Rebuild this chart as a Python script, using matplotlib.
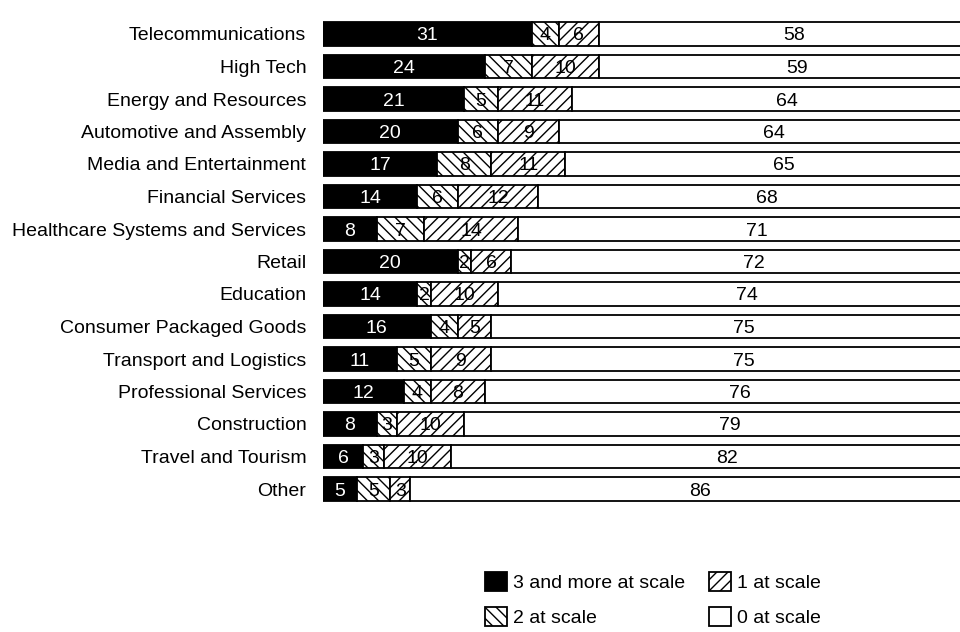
import numpy as np
import matplotlib.pyplot as plt
from matplotlib.patches import Patch

plt.rcParams['font.family'] = ['Liberation Sans', 'DejaVu Sans']
plt.rcParams['hatch.linewidth'] = 1.0

industries = ['Telecommunications', 'High Tech', 'Energy and Resources',
              'Automotive and Assembly', 'Media and Entertainment',
              'Financial Services', 'Healthcare Systems and Services', 'Retail',
              'Education', 'Consumer Packaged Goods', 'Transport and Logistics',
              'Professional Services', 'Construction', 'Travel and Tourism', 'Other']
three_plus = [31, 24, 21, 20, 17, 14, 8, 20, 14, 16, 11, 12, 8, 6, 5]
two_scale = [4, 7, 5, 6, 8, 6, 7, 2, 2, 4, 5, 4, 3, 3, 5]
one_scale = [6, 10, 11, 9, 11, 12, 14, 6, 10, 5, 9, 8, 10, 10, 3]
zero_scale = [58, 59, 64, 64, 65, 68, 71, 72, 74, 75, 75, 76, 79, 82, 86]

series = [
    ('3 and more at scale', three_plus, 'black', '', 'white'),
    ('2 at scale', two_scale, 'white', '\\\\\\', 'black'),
    ('1 at scale', one_scale, 'white', '///', 'black'),
    ('0 at scale', zero_scale, 'white', '', 'black'),
]

fig = plt.figure(figsize=(9.6, 6.32), dpi=100)
ax = fig.add_axes([323 / 960, 1 - 505.25 / 632, 637 / 960, (505.25 - 17.75) / 632])

y = np.arange(len(industries))
left = np.zeros(len(industries))
for name, vals, color, hatch, tcolor in series:
    vals = np.array(vals)
    ax.barh(y, vals, left=left, height=0.72, color=color, hatch=hatch,
            edgecolor='black', linewidth=1.3)
    for yi, l, v in zip(y, left, vals):
        ax.text(l + v / 2, yi, str(v), ha='center', va='center_baseline',
                fontsize=14, color=tcolor)
    left += vals

ax.set_xlim(0, 94.65)
ax.set_ylim(len(industries) - 0.5, -0.5)
ax.set_yticks(y)
ax.set_yticklabels(industries, fontsize=14)
ax.tick_params(axis='y', length=0, pad=12)
ax.set_xticks([])
for s in ax.spines.values():
    s.set_visible(False)

handles = [Patch(facecolor=c, hatch=h, edgecolor='black', linewidth=1.3, label=n)
           for n, _, c, h, _ in series]
fig.legend(handles=handles, ncol=2, loc='upper left',
           bbox_to_anchor=(485 / 960, 1 - 572 / 632), frameon=False,
           fontsize=14, borderpad=0, borderaxespad=0, handlelength=1.15,
           handleheight=1.15, handletextpad=0.3, columnspacing=1.2,
           labelspacing=0.75)

fig.savefig('out.png', dpi=100)
